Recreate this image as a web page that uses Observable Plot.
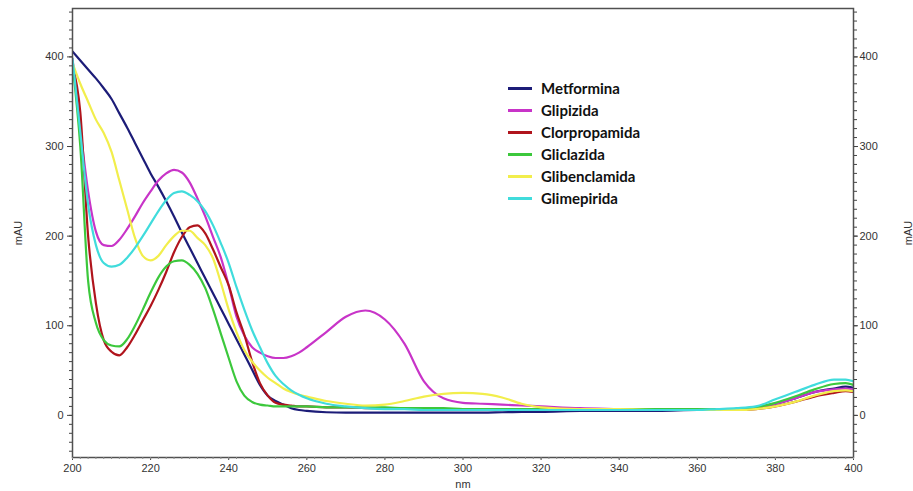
<!DOCTYPE html>
<html><head><meta charset="utf-8">
<script src="https://cdn.jsdelivr.net/npm/d3@7"></script>
<script src="https://cdn.jsdelivr.net/npm/@observablehq/plot@0.6"></script>
<style>
body{margin:0;background:#fff;}
#wrap{position:relative;width:913px;height:491px;overflow:hidden;}
#legend{position:absolute;left:508px;top:77px;font-family:Lato,"Liberation Sans",sans-serif;font-weight:bold;font-size:15px;color:#111;}
.row{display:flex;align-items:center;height:22px;}
.sw{width:24px;height:3px;margin-right:9px;}
</style></head>
<body><div id="wrap"><div id="legend"></div></div>
<script>
const wavelengths = [200,202,204,206,208,210,212,214,216,218,220,222,224,226,228,230,232,234,236,238,240,242,244,246,248,250,252,254,256,258,260,265,270,275,280,285,290,295,300,305,310,315,320,330,340,350,360,365,370,375,380,385,390,395,398,400];
const metformina =    [406,396,386,376,365,353,337,321,304,287,270,255,239,222,204,187,170,153,136,119,102,85,68,51,34,22,16,12,8,6,5,3.5,3,3,3,3,3,3,3,3,3.5,4,4,5,5,5,6,6,7,9,13,19,26,30,32,31];
const glipizida =     [398,320,250,205,190,189,196,208,222,237,250,262,270,274,271,260,242,222,199,176,145,110,89,76,70,66,64,64,66,70,76,93,110,117,107,80,38,19,14,13,12,11,10,8,7,6,6,6,7,9,13,19,26,29,30,29];
const clorpropamida = [390,338,200,125,84,71,67,76,90,106,122,140,160,182,199,210,212,203,185,165,145,115,90,60,36,22,14,12,11,10,10,9,9,8,8,8,7,7,7,7,7,7,7,7,7,6,6,6,6,7,10,15,21,25,27,26];
const gliclazida =    [392,300,150,103,84,78,77,85,100,118,137,154,166,172,173,168,158,142,118,91,64,38,22,15,12,11,10,10,10,10,10,9,9,9,9,8,8,8,7,7,7,7,7,7,7,7,7,7,7,9,14,21,29,35,36,34];
const glibenclamida = [393,370,350,330,315,294,262,230,198,178,173,178,190,200,206,206,198,190,175,148,118,93,73,60,50,42,36,30,26,23,21,16,13,11,12,16,21,24,25,24,20,13,9,7,7,6,6,6,6,7,10,15,22,27,28,27];
const glimepirida =   [398,316,235,190,170,166,168,176,187,200,214,228,240,248,250,246,239,228,212,192,170,143,118,95,76,58,44,35,28,23,19,13,10,8,7,7,6,6,6,6,6,6,6,6,6,6,6,7,8,10,18,26,34,40,40,38];

const seriesNames = ["Metformina","Glipizida","Clorpropamida","Gliclazida","Glibenclamida","Glimepirida"];
const seriesColors = ["#1c1c78","#c834c8","#b0141c","#3cc83c","#f2ee4c","#40dcdc"];
const seriesValues = [metformina, glipizida, clorpropamida, gliclazida, glibenclamida, glimepirida];
const xTicks = [200,220,240,260,280,300,320,340,360,380,400];
const yTicks = [0,100,200,300,400];

const rows = [];
seriesNames.forEach((name, k) => {
  wavelengths.forEach((w, i) => rows.push({nm: w, v: seriesValues[k][i], s: name}));
});

const font = "'Liberation Sans', Arial, sans-serif";
const chart = Plot.plot({
  width: 913, height: 491,
  marginLeft: 72, marginRight: 60, marginTop: 8, marginBottom: 34,
  style: {fontFamily: font, fontSize: "11px", color: "#333", background: "transparent"},
  x: {domain: [200, 400]},
  y: {domain: [-47, 454]},
  color: {domain: seriesNames, range: seriesColors},
  marks: [
    Plot.line(rows, {x: "nm", y: "v", z: "s", stroke: "s", curve: "monotone-x", strokeWidth: 2.2, clip: true}),
    Plot.frame({stroke: "#505050", strokeWidth: 1.5}),
    Plot.axisY({anchor: "left", ticks: yTicks, tickSize: 5, tickPadding: 4, label: "mAU", labelAnchor: "center", labelArrow: "none", labelOffset: 58, stroke: "#444"}),
    Plot.axisY({anchor: "left", ticks: d3.range(-40, 451, 10), tickSize: 3, tickFormat: () => "", label: null, stroke: "#444"}),
    Plot.axisY({anchor: "right", ticks: yTicks, tickSize: 4, tickPadding: 2, label: "mAU", labelAnchor: "center", labelArrow: "none", labelOffset: 58, stroke: "#444"}),
    Plot.axisY({anchor: "right", ticks: d3.range(-40, 451, 10), tickSize: 3, tickFormat: () => "", label: null, stroke: "#444"}),
    Plot.axisX({ticks: xTicks, tickSize: 3, tickPadding: 4, label: "nm", labelAnchor: "center", labelArrow: "none", labelOffset: 30, stroke: "#444"}),
    Plot.axisX({ticks: d3.range(200, 401, 2), tickSize: 2, tickFormat: () => "", label: null, stroke: "#888"})
  ]
});
document.getElementById("wrap").prepend(chart);

const legend = document.getElementById("legend");
seriesNames.forEach((name, k) => {
  const r = document.createElement("div"); r.className = "row";
  const sw = document.createElement("span"); sw.className = "sw"; sw.style.background = seriesColors[k];
  const t = document.createElement("span"); t.textContent = name;
  r.append(sw, t); legend.append(r);
});
</script>
</body></html>
